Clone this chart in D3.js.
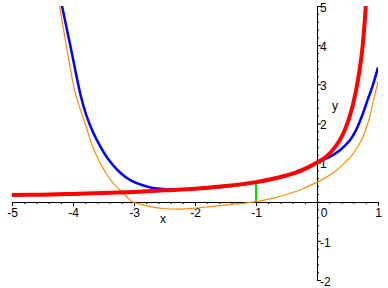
<!DOCTYPE html>
<html>
<head>
<meta charset="utf-8">
<script src="https://d3js.org/d3.v7.min.js"></script>
<style>
  body { margin: 0; background: #fff; }
  svg { display: block; font-family: "Liberation Sans", Arial, sans-serif; }
</style>
</head>
<body>
<svg width="388" height="288"></svg>
<script>
// values
var redX = [-5, -4.5, -4, -3.5, -3, -2.5, -2, -1.5, -1, -0.5, -0.25, 0, 0.15, 0.3, 0.42, 0.53, 0.6, 0.65, 0.7, 0.75, 0.8];
var redY = [0.17, 0.18, 0.2, 0.22, 0.25, 0.29, 0.33, 0.4, 0.5, 0.67, 0.8, 1.0, 1.15, 1.4, 1.71, 2.15, 2.55, 2.92, 3.38, 4.0, 5.0];

var blueX = [-4.18, -4.03, -3.869, -3.784, -3.675, -3.566, -3.456, -3.348, -3.238, -3.128, -3.02, -2.91, -2.69, -2.47, -2.2, -2, -1.5, -1, -0.5, 0, 0.2, 0.37, 0.53, 0.64, 0.75, 0.83, 0.92, 1.0];
var blueY = [5.0, 3.88, 2.68, 2.22, 1.79, 1.45, 1.16, 0.94, 0.76, 0.62, 0.52, 0.45, 0.35, 0.32, 0.31, 0.33, 0.39, 0.49, 0.66, 1.0, 1.14, 1.31, 1.55, 1.83, 2.24, 2.6, 3.0, 3.43];

var orangeX = [-4.22, -4.098, -3.975, -3.893, -3.784, -3.7, -3.566, -3.456, -3.348, -3.238, -3.128, -3.025, -2.855, -2.69, -2.47, -2.25, -2.04, -1.82, -1.6, -1.27, -1, -0.72, -0.45, -0.25, 0, 0.26, 0.42, 0.59, 0.75, 0.86, 0.92, 0.98, 1.0];
var orangeY = [5.0, 3.88, 2.86, 2.42, 1.92, 1.5, 1.02, 0.72, 0.49, 0.31, 0.14, 0.0, -0.08, -0.14, -0.18, -0.19, -0.17, -0.135, -0.1, -0.05, 0.0, 0.09, 0.21, 0.32, 0.5, 0.73, 0.94, 1.22, 1.64, 2.15, 2.55, 2.94, 3.08];

// green segment at x = -1
var greenX = [-1];
var greenFrom = [0];
var greenTo = [0.5];

var xTicks = [-5, -4, -3, -2, -1, 0, 1];
var yTicks = [-2, -1, 1, 2, 3, 4, 5];

var svg = d3.select("svg");

var x = d3.scaleLinear().domain([-5, 1]).range([12, 378]),
  y = d3.scaleLinear().domain([-2, 5]).range([280, 6]);

var x0 = Math.round(x(0)),
  y0 = Math.round(y(0));

var minorX = d3.range(-5, 1.001, 0.2),
  minorY = d3.range(-2, 5.001, 0.2);

// x axis
svg.append("g")
  .attr("transform", "translate(0," + y0 + ")")
  .call(d3.axisBottom(x).tickValues(minorX).tickSize(2).tickSizeOuter(0).tickFormat(""));

var xAxis = svg.append("g")
  .attr("transform", "translate(0," + y0 + ")")
  .call(d3.axisBottom(x)
    .tickValues(xTicks)
    .tickSize(4)
    .tickSizeOuter(0)
    .tickPadding(2.5)
    .tickFormat(function(d) { return String(d) }));

xAxis.selectAll("text")
  .attr("font-size", 12)
  .attr("font-family", "Liberation Sans, Arial, sans-serif")
  .attr("fill", "#000")
  .attr("dx", function(d) { return d === 0 ? 6.5 : 0 });

// y axis
svg.append("g")
  .attr("transform", "translate(" + x0 + ",0)")
  .call(d3.axisRight(y).tickValues(minorY).tickSize(2).tickSizeOuter(0).tickFormat(""));

var yAxis = svg.append("g")
  .attr("transform", "translate(" + x0 + ",0)")
  .call(d3.axisRight(y)
    .tickValues(yTicks)
    .tickSize(4)
    .tickSizeOuter(0)
    .tickPadding(-1)
    .tickFormat(function(d) { return String(d) }));

yAxis.selectAll("text")
  .attr("font-size", 12)
  .attr("font-family", "Liberation Sans, Arial, sans-serif")
  .attr("fill", "#000")
  .attr("dy", "0.45em");

svg.selectAll(".domain").attr("stroke", "#000");
svg.selectAll(".tick line").attr("stroke", "#000");

svg.append("text")
  .attr("x", 163)
  .attr("y", 223)
  .attr("text-anchor", "middle")
  .attr("font-size", 12)
  .text("x");

svg.append("text")
  .attr("x", 335)
  .attr("y", 109.5)
  .attr("text-anchor", "middle")
  .attr("font-size", 12)
  .text("y");

// curves
svg.append("clipPath")
  .attr("id", "plot")
  .append("rect")
  .attr("x", x(-5))
  .attr("y", y(5))
  .attr("width", x(1) - x(-5))
  .attr("height", y(-2) - y(5));

var line = d3.line()
  .x(function(d) { return x(d[0]) })
  .y(function(d) { return y(d[1]) })
  .curve(d3.curveCatmullRom.alpha(0.5));

var curves = [
  {xs: orangeX, ys: orangeY, color: "#ff8c00", width: 1.2},
  {xs: blueX, ys: blueY, color: "#0000ff", width: 2.5},
  {xs: redX, ys: redY, color: "#ff0000", width: 4}
];

var plot = svg.append("g").attr("clip-path", "url(#plot)");

plot.selectAll("line.green")
  .data(greenX)
  .enter()
  .append("line")
  .attr("class", "green")
  .attr("x1", function(d) { return x(d) })
  .attr("x2", function(d) { return x(d) })
  .attr("y1", function(d, i) { return y(greenFrom[i]) })
  .attr("y2", function(d, i) { return y(greenTo[i]) })
  .attr("stroke", "#00e000")
  .attr("stroke-width", 2);

plot.selectAll("path.curve")
  .data(curves)
  .enter()
  .append("path")
  .attr("class", "curve")
  .attr("fill", "none")
  .attr("stroke", function(d) { return d.color })
  .attr("stroke-width", function(d) { return d.width })
  .attr("d", function(d) {
    return line(d.xs.map(function(v, i) { return [v, d.ys[i]] }))
  });
</script>
</body>
</html>
